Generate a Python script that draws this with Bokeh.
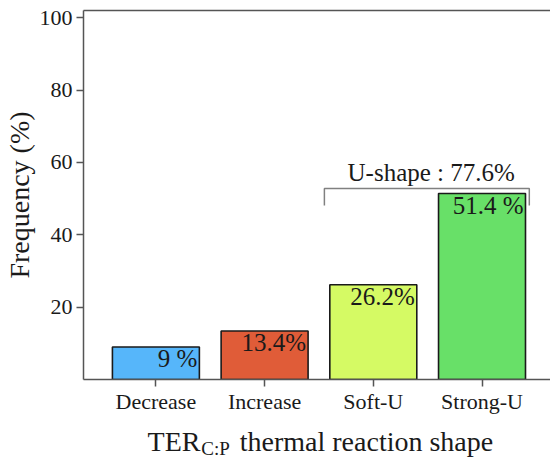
from bokeh.plotting import figure
from bokeh.models import ColumnDataSource, FixedTicker, Range1d, LinearAxis, Label
from bokeh.core.properties import value
from bokeh.embed import file_html
from bokeh.resources import INLINE

# ---- data ----
categories = ["Decrease", "Increase", "Soft-U", "Strong-U"]
frequencies = [9.0, 13.4, 26.2, 51.4]
bar_labels = ["9 %", "13.4%", "26.2%", "51.4 %"]
bar_colors = ["#56b6fa", "#e05c38", "#d5fa64", "#68e068"]
y_ticks = [20, 40, 60, 80, 100]
title_main = "TER"
title_sub = "C:P"
title_rest = "thermal reaction shape"
y_title = "Frequency (%)"
ushape_total = frequencies[2] + frequencies[3]

FONT = "Liberation Serif"
TXT = "#1a1a1a"
AX = "#555555"

xs = list(range(len(categories)))
src = ColumnDataSource(dict(x=xs, top=frequencies, color=bar_colors,
                            lab=bar_labels, lx=[i + 0.4 for i in xs]))

X0, X1 = -0.666, 3.63
p = figure(width=550, height=461, output_backend="svg", toolbar_location=None,
           x_range=Range1d(X0, X1), y_range=Range1d(0, 102),
           min_border_left=83, min_border_right=0, min_border_top=10,
           min_border_bottom=82)
p.outline_line_color = None
p.grid.visible = False
p.background_fill_color = "white"
p.border_fill_color = "white"

p.vbar(x="x", top="top", width=0.8, bottom=0, source=src,
       fill_color="color", line_color="#1a1a1a", line_width=1.6)

p.text(x="lx", y="top", text="lab", source=src, text_align="right",
       text_baseline="top", x_offset=-2, y_offset=-2,
       text_font=value(FONT), text_font_size="25px", text_color=TXT)

# bracket for the U-shape group
bl = xs[2] - 0.45
br = xs[3] + 0.435
btop = max(frequencies) + 1.4
bbot = btop - 4.7
p.multi_line(xs=[[bl, bl, br, br]], ys=[[bbot, btop, btop, bbot]],
             line_color="#808080", line_width=1.5)
p.add_layout(Label(x=(bl + br) / 2 + 0.04, y=btop + 0.7,
                   text=f"U-shape : {ushape_total:.1f}%",
                   text_align="center", text_baseline="bottom",
                   text_font=FONT, text_font_size="25px", text_color=TXT))

# axes
xa = p.xaxis[0]
xa.ticker = FixedTicker(ticks=xs)
xa.major_label_overrides = {i: c for i, c in zip(xs, categories)}
ya = p.yaxis[0]
ya.ticker = FixedTicker(ticks=y_ticks)
for a in (xa, ya):
    a.axis_line_color = AX
    a.axis_line_width = 1.5
    a.major_tick_line_color = AX
    a.major_tick_line_width = 1.5
    a.major_tick_out = 7
    a.major_tick_in = 0
    a.minor_tick_line_color = None
    a.major_label_text_font = FONT
    a.major_label_text_font_size = "22px"
    a.major_label_text_color = TXT
    a.major_label_standoff = 4
xa.major_label_standoff = 2
ya.axis_label = y_title
ya.axis_label_text_font = FONT
ya.axis_label_text_font_size = "28px"
ya.axis_label_text_font_style = "normal"
ya.axis_label_text_color = TXT
ya.axis_label_standoff = 2

top_axis = LinearAxis(ticker=FixedTicker(ticks=[]), axis_line_color=AX,
                      axis_line_width=1.5, major_tick_line_color=None,
                      minor_tick_line_color=None, major_label_text_font_size="0px")
p.add_layout(top_axis, "above")


# x title built from extra tick-label-only axes (text stays outside the frame)
def px2x(px):
    return X0 + (px - 83) * (X1 - X0) / 467.0


ter_c = px2x(173.5)
rest_c = px2x(366)
sub_c = px2x(215)

ax2 = LinearAxis(ticker=FixedTicker(ticks=[ter_c, rest_c]),
                 major_label_overrides={ter_c: title_main, rest_c: title_rest},
                 axis_line_color=None, major_tick_line_color=None,
                 minor_tick_line_color=None, major_tick_out=0, major_tick_in=0,
                 major_label_standoff=9, major_label_text_font=FONT,
                 major_label_text_font_size="28px", major_label_text_color=TXT)
p.add_layout(ax2, "below")
ax3 = LinearAxis(ticker=FixedTicker(ticks=[sub_c]),
                 major_label_overrides={sub_c: title_sub},
                 axis_line_color=None, major_tick_line_color=None,
                 minor_tick_line_color=None, major_tick_out=0, major_tick_in=0,
                 major_label_standoff=-22, major_label_text_font=FONT,
                 major_label_text_font_size="19px", major_label_text_color=TXT)
p.add_layout(ax3, "below")

open("out.html", "w").write(file_html(p, INLINE))
